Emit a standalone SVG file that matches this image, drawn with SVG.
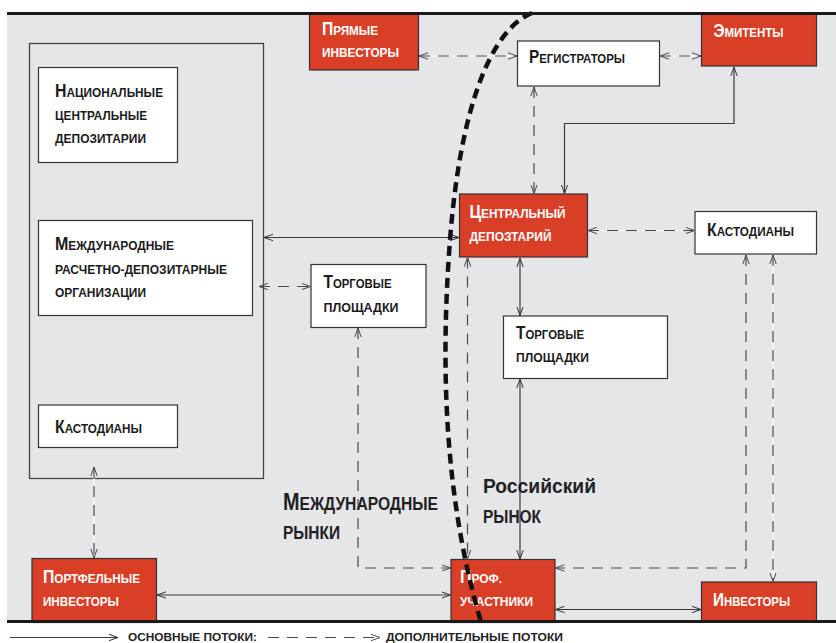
<svg xmlns="http://www.w3.org/2000/svg" width="836" height="643" viewBox="0 0 836 643">
<defs>
<style>
.t{font-family:"Liberation Sans",Arial,sans-serif;font-weight:bold;font-size:13px;fill:#1b1b1b}
.w{fill:#fff}
.c{font-size:17.5px}
.bw{fill:#fff;stroke:#333;stroke-width:1.2}
.br{fill:#d93e27;stroke:#333;stroke-width:1.2}
.s{fill:none;stroke:#3a3a3a;stroke-width:1.2}
.d{fill:none;stroke:#4a4a4a;stroke-width:1.2;stroke-dasharray:11 8}
.wl{fill:none;stroke:#fff;stroke-width:1}
.lab{font-family:"Liberation Sans",Arial,sans-serif;font-weight:bold;fill:#222}
</style>
<marker id="as" viewBox="0 0 10 8" refX="9" refY="4" markerWidth="10" markerHeight="8" markerUnits="userSpaceOnUse" orient="auto-start-reverse"><path d="M0,0.8 L9,4 L0,7.2" fill="none" stroke="#333" stroke-width="1"/></marker>
<marker id="ad" viewBox="0 0 10 8" refX="9" refY="4" markerWidth="10" markerHeight="8" markerUnits="userSpaceOnUse" orient="auto-start-reverse"><path d="M0,0.8 L9,4 L0,7.2" fill="none" stroke="#4a4a4a" stroke-width="1"/></marker>
</defs>
<rect x="0" y="0" width="836" height="643" fill="#fff"/>
<rect x="7" y="13" width="829" height="609" fill="#e5e6e8"/>

<g id="container">
<rect x="29.5" y="43.5" width="234" height="435" fill="none" stroke="#444" stroke-width="1.3"/>
</g>

<g id="ncd">
<rect class="bw" x="38.5" y="67.5" width="139" height="95"/>
<text class="t" x="55" y="97" textLength="108" lengthAdjust="spacingAndGlyphs"><tspan class="c">Н</tspan>АЦИОНАЛЬНЫЕ</text>
<text class="t" x="55" y="120" textLength="92" lengthAdjust="spacingAndGlyphs">ЦЕНТРАЛЬНЫЕ</text>
<text class="t" x="55" y="143" textLength="91" lengthAdjust="spacingAndGlyphs">ДЕПОЗИТАРИИ</text>
</g>

<g id="mrdo">
<rect class="bw" x="38.5" y="220.5" width="214" height="95"/>
<text class="t" x="55" y="250" textLength="119" lengthAdjust="spacingAndGlyphs"><tspan class="c">М</tspan>ЕЖДУНАРОДНЫЕ</text>
<text class="t" x="55" y="274" textLength="172" lengthAdjust="spacingAndGlyphs">РАСЧЕТНО-ДЕПОЗИТАРНЫЕ</text>
<text class="t" x="55" y="297" textLength="91" lengthAdjust="spacingAndGlyphs">ОРГАНИЗАЦИИ</text>
</g>

<g id="custodians-left">
<rect class="bw" x="38.5" y="405" width="139" height="42.5"/>
<text class="t" x="55" y="433" textLength="87" lengthAdjust="spacingAndGlyphs"><tspan class="c">К</tspan>АСТОДИАНЫ</text>
</g>

<g id="direct-investors">
<rect class="br" x="309.5" y="14" width="109" height="56"/>
<text class="t w" x="322" y="35" textLength="56" lengthAdjust="spacingAndGlyphs"><tspan class="c">П</tspan>РЯМЫЕ</text>
<text class="t w" x="322" y="57" textLength="77" lengthAdjust="spacingAndGlyphs">ИНВЕСТОРЫ</text>
</g>

<g id="registrars">
<rect class="bw" x="517.5" y="41" width="142" height="45"/>
<text class="t" x="529" y="63" textLength="96" lengthAdjust="spacingAndGlyphs"><tspan class="c">Р</tspan>ЕГИСТРАТОРЫ</text>
</g>

<g id="issuers">
<rect class="br" x="701.5" y="14" width="115" height="52"/>
<text class="t w" x="713.5" y="37" textLength="70" lengthAdjust="spacingAndGlyphs"><tspan class="c">Э</tspan>МИТЕНТЫ</text>
</g>

<g id="trading-left">
<rect class="bw" x="311" y="264.5" width="115" height="63"/>
<text class="t" x="323.5" y="288" textLength="68" lengthAdjust="spacingAndGlyphs"><tspan class="c">Т</tspan>ОРГОВЫЕ</text>
<text class="t" x="323.5" y="311.5" textLength="75" lengthAdjust="spacingAndGlyphs">ПЛОЩАДКИ</text>
</g>

<g id="central-depository">
<rect class="br" x="459.5" y="194" width="128" height="63"/>
<text class="t w" x="469.5" y="218" textLength="96" lengthAdjust="spacingAndGlyphs"><tspan class="c">Ц</tspan>ЕНТРАЛЬНЫЙ</text>
<text class="t w" x="469.5" y="241" textLength="82" lengthAdjust="spacingAndGlyphs">ДЕПОЗТАРИЙ</text>
</g>

<g id="custodians-right">
<rect class="bw" x="695" y="211.5" width="121.5" height="42.5"/>
<text class="t" x="707" y="236" textLength="87" lengthAdjust="spacingAndGlyphs"><tspan class="c">К</tspan>АСТОДИАНЫ</text>
</g>

<g id="trading-center">
<rect class="bw" x="503.5" y="316" width="164" height="62.5"/>
<text class="t" x="516" y="339" textLength="68" lengthAdjust="spacingAndGlyphs"><tspan class="c">Т</tspan>ОРГОВЫЕ</text>
<text class="t" x="516" y="362" textLength="73" lengthAdjust="spacingAndGlyphs">ПЛОЩАДКИ</text>
</g>

<g id="portfolio-investors">
<rect class="br" x="32" y="558.5" width="124.5" height="64"/>
<text class="t w" x="43" y="583" textLength="97" lengthAdjust="spacingAndGlyphs"><tspan class="c">П</tspan>ОРТФЕЛЬНЫЕ</text>
<text class="t w" x="43" y="606" textLength="76" lengthAdjust="spacingAndGlyphs">ИНВЕСТОРЫ</text>
</g>

<g id="prof-participants">
<rect class="br" x="451" y="559.5" width="104" height="63"/>
<text class="t w" x="460" y="583" textLength="42" lengthAdjust="spacingAndGlyphs"><tspan class="c">П</tspan>РОФ.</text>
<text class="t w" x="460" y="606" textLength="73" lengthAdjust="spacingAndGlyphs">УЧАСТНИКИ</text>
</g>

<g id="investors">
<rect class="br" x="701.5" y="582" width="115" height="40"/>
<text class="t w" x="713" y="606" textLength="77" lengthAdjust="spacingAndGlyphs"><tspan class="c">И</tspan>НВЕСТОРЫ</text>
</g>

<g id="connectors">
<line class="wl" x1="419" y1="56" x2="517" y2="56"/>
<line class="d" x1="419" y1="56" x2="517" y2="56" marker-start="url(#ad)" marker-end="url(#ad)"/>
<line class="wl" x1="660" y1="56" x2="701" y2="56"/>
<line class="d" x1="660" y1="56" x2="701" y2="56" marker-start="url(#ad)" marker-end="url(#ad)"/>
<line class="d" x1="534" y1="87" x2="534" y2="193.5" marker-start="url(#ad)" marker-end="url(#ad)"/>
<polyline class="s" points="734,67 734,123.5 564.5,123.5 564.5,193.5" marker-start="url(#as)" marker-end="url(#as)"/>
<line class="s" x1="264" y1="237.5" x2="459" y2="237.5" marker-start="url(#as)" marker-end="url(#as)"/>
<line class="d" x1="259" y1="286.5" x2="310.5" y2="286.5" marker-start="url(#ad)" marker-end="url(#ad)"/>
<line class="wl" x1="588" y1="230.5" x2="694.5" y2="230.5"/>
<line class="d" x1="588" y1="230.5" x2="694.5" y2="230.5" marker-start="url(#ad)" marker-end="url(#ad)"/>
<line class="s" x1="520" y1="258" x2="520" y2="315.5" marker-start="url(#as)" marker-end="url(#as)"/>
<line class="s" x1="520" y1="379" x2="520" y2="559" marker-start="url(#as)" marker-end="url(#as)"/>
<polyline class="d" points="358,328 358,568 450.5,568" marker-start="url(#ad)" marker-end="url(#ad)"/>
<line class="d" x1="467.5" y1="257.5" x2="467.5" y2="559" marker-start="url(#ad)" marker-end="url(#ad)"/>
<line class="s" x1="157" y1="595" x2="450.5" y2="595" marker-start="url(#as)" marker-end="url(#as)"/>
<line class="wl" x1="94" y1="467" x2="94" y2="558"/>
<line class="d" x1="94" y1="467" x2="94" y2="558" marker-start="url(#ad)" marker-end="url(#ad)"/>
<polyline class="d" points="746,255 746,568 555.5,568" marker-start="url(#ad)" marker-end="url(#ad)"/>
<line class="wl" x1="773" y1="255" x2="773" y2="581.5"/>
<line class="d" x1="773" y1="255" x2="773" y2="581.5" marker-start="url(#ad)" marker-end="url(#ad)"/>
<line class="s" x1="555.5" y1="609.5" x2="701" y2="609.5" marker-start="url(#as)" marker-end="url(#as)"/>
</g>

<g id="region-labels">
<text class="lab" x="283" y="510" font-size="18.5" textLength="155" lengthAdjust="spacingAndGlyphs"><tspan font-size="23.5">М</tspan>ЕЖДУНАРОДНЫЕ</text>
<text class="lab" x="283" y="539" font-size="18" textLength="57" lengthAdjust="spacingAndGlyphs">РЫНКИ</text>
<text class="lab" x="483" y="493" font-size="21" textLength="113" lengthAdjust="spacingAndGlyphs">Российский</text>
<text class="lab" x="483" y="523" font-size="18.5" textLength="58" lengthAdjust="spacingAndGlyphs">РЫНОК</text>
</g>

<g id="boundary">
<path d="M532,13 C490,30 460,110 450,240 C440,370 445,500 481,622" fill="none" stroke="#111" stroke-width="4.5" stroke-dasharray="10 6"/>
</g>

<line x1="7" y1="13.5" x2="836" y2="13.5" stroke="#1a1a1a" stroke-width="3"/>
<line x1="7" y1="621.5" x2="836" y2="621.5" stroke="#1a1a1a" stroke-width="3"/>

<g id="legend">
<line class="s" x1="10" y1="637.5" x2="118" y2="637.5" marker-end="url(#as)"/>
<text class="lab" x="128" y="640.5" font-size="11.5" textLength="129" lengthAdjust="spacingAndGlyphs">ОСНОВНЫЕ ПОТОКИ:</text>
<line class="d" x1="268" y1="637.5" x2="380" y2="637.5" marker-end="url(#ad)"/>
<text class="lab" x="386" y="640.5" font-size="11.5" textLength="177" lengthAdjust="spacingAndGlyphs">ДОПОЛНИТЕЛЬНЫЕ ПОТОКИ</text>
</g>
</svg>
